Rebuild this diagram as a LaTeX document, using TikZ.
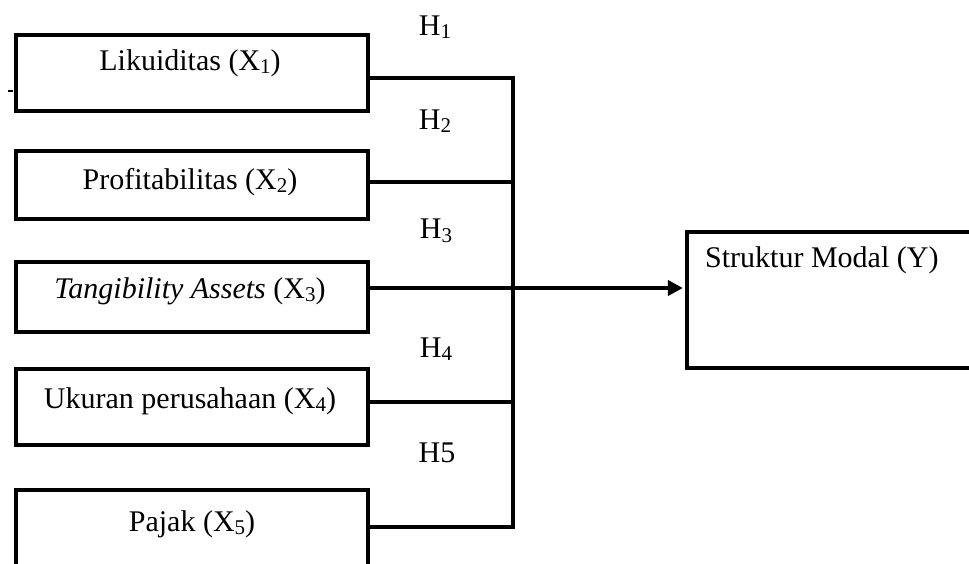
\documentclass[tikz,border=0pt]{standalone}
\usepackage{fontspec}
\setmainfont{Liberation Serif}
\usetikzlibrary{arrows.meta}
\newcommand\subx[1]{\raisebox{-0.12em}{\fontsize{21}{21}\selectfont #1}}
\begin{document}
\begin{tikzpicture}[x=1pt,y=-1pt,
  box/.style={draw, line width=4.3pt, minimum width=352pt, inner sep=0pt, anchor=north west},
  txt/.style={font=\fontsize{30}{36}\selectfont, inner sep=0pt},
  conn/.style={line width=4.3pt},
  arr/.style={conn, -{Triangle[length=15pt,width=15pt]}, shorten >=2.1pt},
]
\useasboundingbox (0,0) rectangle (969,563);
% boxes
\node[box, minimum height=76pt] (b1) at (14,33) {};
\node[box, minimum height=68pt] (b2) at (14,149) {};
\node[box, minimum height=70pt] (b3) at (14,260) {};
\node[box, minimum height=76pt] (b4) at (14,367) {};
\node[box, minimum height=120pt] (b5) at (14,488) {};
\node[box, minimum width=340pt, minimum height=136pt] (y) at (685,230) {};
% texts
\node[txt] (t1) at (190,63) {Likuiditas (X\subx{1})};
\node[txt] (t2) at (190,182) {Profitabilitas (X\subx{2})};
\node[txt] (t3) at (190,291) {\textit{Tangibility Assets} (X\subx{3})};
\node[txt] (t4) at (190,401) {Ukuran perusahaan (X\subx{4})};
\node[txt] (t5) at (192,524) {Pajak (X\subx{5})};
\node[txt, anchor=west] (ty) at (705,260) {Struktur Modal (Y)};
\node[txt] (h1) at (435,27) {H\subx{1}};
\node[txt] (h2) at (435,121) {H\subx{2}};
\node[txt] (h3) at (436,231) {H\subx{3}};
\node[txt] (h4) at (436,349) {H\subx{4}};
\node[txt] (h5) at (437,453) {H5};
% junctions
\coordinate (j1) at (513,78);
\coordinate (j2) at (513,182);
\coordinate (j3) at (513,288);
\coordinate (j4) at (513,402);
\coordinate (j5) at (513,527);
% connectors
\draw[conn] (b1.east |- j1) -- (j1) -- (j5) -- (b5.east |- j5);
\draw[conn] (b2.east |- j2) -- (j2);
\draw[conn] (b4.east |- j4) -- (j4);
\draw[arr] (b3.east |- j3) -- (y.west |- j3);
% small stray tick at left of first box
\draw[line width=2.5pt] (8,91) -- (13,91);
\end{tikzpicture}
\end{document}
